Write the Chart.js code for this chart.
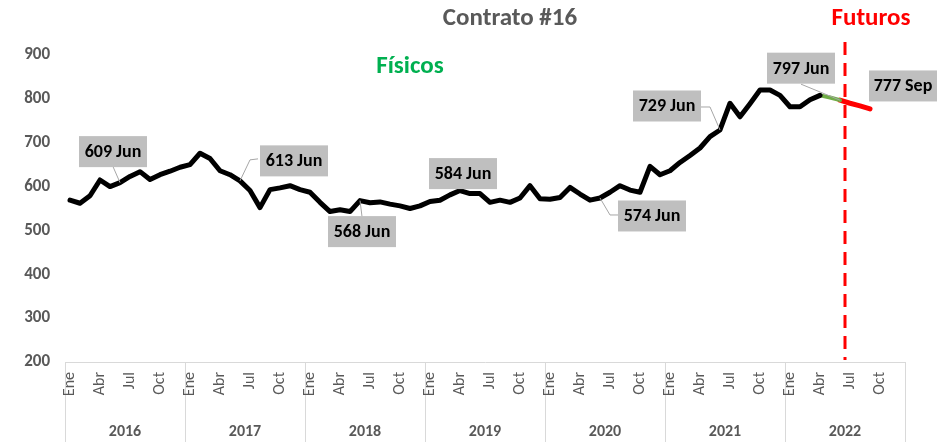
<!DOCTYPE html>
<html>
<head>
<meta charset="utf-8">
<script src="https://cdn.jsdelivr.net/npm/chart.js@4.4.0/dist/chart.umd.min.js"></script>
<style>
  html, body { margin: 0; padding: 0; background: #fff; }
  #wrap { width: 938px; height: 442px; }
</style>
</head>
<body>
<div id="wrap"><canvas id="chart" width="938" height="442"></canvas></div>
<script>
// data
const years = ['2016', '2017', '2018', '2019', '2020', '2021', '2022'];
const months = ['Ene', 'Feb', 'Mar', 'Abr', 'May', 'Jun', 'Jul', 'Ago', 'Sep', 'Oct', 'Nov', 'Dic'];
const shownMonths = ['Ene', 'Abr', 'Jul', 'Oct'];
const yTicks = [200, 300, 400, 500, 600, 700, 800, 900];

// Jan 2016 .. Apr 2022
const fisicos = [
    569, 562, 579, 615, 600, 609, 623, 634, 616, 627, 635, 644,
    650, 676, 664, 636, 627, 613, 591, 552, 593, 597, 602, 593,
    587, 564, 543, 547, 543, 568, 563, 565, 560, 556, 550, 556,
    566, 569, 581, 591, 584, 584, 564, 569, 564, 574, 602, 572,
    571, 575, 598, 583, 569, 574, 587, 602, 592, 587, 646, 627,
    636, 655, 671, 688, 714, 729, 790, 759, 789, 820, 820, 808,
    782, 782, 798, 808
];
// Apr 2022 .. Jun 2022 (short link segment)
const enlace = [808, 803, 797];
// Jun 2022 .. Sep 2022
const futuros = [797, 790, 784, 777];

// callouts: category index and text
const calloutIdx = [5, 17, 29, 41, 53, 65, 77, 80];
const calloutText = ['609 Jun', '613 Jun', '568 Jun', '584 Jun', '574 Jun', '729 Jun', '797 Jun', '777 Sep'];

const labels = [];
years.forEach(y => months.forEach(m => labels.push(m + ' ' + y)));

function padSeries(start, values) {
    const out = new Array(labels.length).fill(null);
    values.forEach((v, i) => { out[start + i] = v; });
    return out;
}

const allValues = padSeries(0, fisicos);
enlace.forEach((v, i) => { allValues[75 + i] = v; });
futuros.forEach((v, i) => { allValues[77 + i] = v; });

const FONT = 'Carlito, "Liberation Sans Narrow", "Open Sans", sans-serif';
const GREY = '#595959';
Chart.defaults.font.family = FONT;
Chart.defaults.font.size = 17;
Chart.defaults.color = GREY;

// box offsets (px, box centre from point) and leader paths
const calloutLayout = [
    { dx: -7, dy: -31, leader: [[-7, -16], [0, 0]] },
    { dx: 54, dy: -20, leader: [[18, -22], [10, -21], [0, 0]] },
    { dx: 2, dy: 31, leader: [[2, 16], [0, 0]] },
    { dx: -17, dy: -20, leader: null },
    { dx: 52, dy: 18, leader: [[18, 17], [10, 17], [0, 0]] },
    { dx: -53, dy: -24, leader: [[-19, -23], [-10, -23], [0, 0]] },
    { dx: -39, dy: -32, leader: [[-39, -16], [0, 0]] },
    { dx: 33, dy: -23, leader: null }
];

const decorations = {
    id: 'decorations',
    beforeDraw(chart) {
        const ctx = chart.ctx;
        const x = chart.scales.x;
        const area = chart.chartArea;
        const half = (x.getPixelForValue(1) - x.getPixelForValue(0)) / 2;
        ctx.save();
        // year boxes under the axis
        ctx.strokeStyle = '#d9d9d9';
        ctx.lineWidth = 1;
        for (let k = 0; k <= years.length; k++) {
            const px = Math.round(x.getPixelForValue(k * 12) - half) + 0.5;
            ctx.beginPath();
            ctx.moveTo(px, area.bottom);
            ctx.lineTo(px, chart.height);
            ctx.stroke();
        }
        ctx.fillStyle = GREY;
        ctx.font = 'bold 16px ' + FONT;
        ctx.textAlign = 'center';
        ctx.textBaseline = 'middle';
        years.forEach((yr, k) => {
            const cx = (x.getPixelForValue(k * 12) + x.getPixelForValue(k * 12 + 11)) / 2;
            ctx.fillText(yr, cx, 432);
        });
        ctx.restore();
    },
    afterDatasetsDraw(chart) {
        const ctx = chart.ctx;
        const x = chart.scales.x;
        const y = chart.scales.y;
        const area = chart.chartArea;

        ctx.save();
        ctx.textAlign = 'center';
        ctx.textBaseline = 'middle';

        // futures divider
        const dx = (x.getPixelForValue(77) + x.getPixelForValue(78)) / 2;
        ctx.strokeStyle = '#ff0000';
        ctx.lineWidth = 3;
        ctx.setLineDash([13, 8]);
        ctx.beginPath();
        ctx.moveTo(dx, 42);
        ctx.lineTo(dx, area.bottom - 2);
        ctx.stroke();
        ctx.setLineDash([]);

        // titles
        ctx.font = 'bold 25px ' + FONT;
        ctx.fillStyle = GREY;
        ctx.fillText('Contrato #16', 510, 19);
        ctx.fillStyle = '#ff0000';
        ctx.fillText('Futuros', 871, 19);
        ctx.fillStyle = '#00b050';
        ctx.fillText('Físicos', 410, 67);

        // callouts
        calloutIdx.forEach((idx, i) => {
            const px = x.getPixelForValue(idx);
            const py = y.getPixelForValue(allValues[idx]);
            const lay = calloutLayout[i];
            if (lay.leader) {
                ctx.strokeStyle = '#a6a6a6';
                ctx.lineWidth = 1;
                ctx.beginPath();
                lay.leader.forEach((p, j) => {
                    if (j === 0) ctx.moveTo(px + p[0], py + p[1]);
                    else ctx.lineTo(px + p[0], py + p[1]);
                });
                ctx.stroke();
            }
            const bw = 68, bh = 31;
            const bx = px + lay.dx - bw / 2;
            const by = py + lay.dy - bh / 2;
            ctx.fillStyle = '#bfbfbf';
            ctx.fillRect(bx, by, bw, bh);
            ctx.fillStyle = '#000';
            ctx.font = 'bold 18px ' + FONT;
            ctx.fillText(calloutText[i], px + lay.dx, py + lay.dy + 1);
        });

        ctx.restore();
    }
};

new Chart(document.getElementById('chart'), {
    type: 'line',
    data: {
        labels: labels,
        datasets: [
            {
                label: 'Físicos',
                data: padSeries(0, fisicos),
                borderColor: '#000',
                borderWidth: 5,
                pointRadius: 0,
                borderJoinStyle: 'round',
                borderCapStyle: 'round',
                spanGaps: false
            },
            {
                label: 'Enlace',
                data: padSeries(75, enlace),
                borderColor: '#70ad47',
                borderWidth: 4,
                pointRadius: 0,
                borderCapStyle: 'round'
            },
            {
                label: 'Futuros',
                data: padSeries(77, futuros),
                borderColor: '#ff0000',
                borderWidth: 5,
                pointRadius: 0,
                borderCapStyle: 'round',
                borderJoinStyle: 'round'
            }
        ]
    },
    options: {
        responsive: false,
        animation: false,
        layout: { padding: { top: 55, right: 33, bottom: 0, left: 0 } },
        plugins: {
            legend: { display: false },
            tooltip: { enabled: false },
            title: { display: false }
        },
        scales: {
            x: {
                type: 'category',
                offset: true,
                grid: { display: false, drawTicks: false },
                border: { display: true, color: '#d9d9d9', width: 1 },
                afterFit: scale => { scale.height = 80; },
                ticks: {
                    autoSkip: false,
                    minRotation: 90,
                    maxRotation: 90,
                    padding: 10,
                    color: GREY,
                    font: { family: FONT, size: 16 },
                    callback: function (val, i) {
                        const m = months[i % 12];
                        return shownMonths.includes(m) ? m : '';
                    }
                }
            },
            y: {
                min: yTicks[0],
                max: yTicks[yTicks.length - 1],
                afterFit: scale => { scale.width = 65; },
                grid: { display: false, drawTicks: false },
                border: { display: false },
                afterBuildTicks: scale => { scale.ticks = yTicks.map(v => ({ value: v })); },
                ticks: {
                    padding: 15,
                    color: GREY,
                    font: { family: FONT, size: 17, weight: 'bold' }
                }
            }
        }
    },
    plugins: [decorations]
});
</script>
</body>
</html>
